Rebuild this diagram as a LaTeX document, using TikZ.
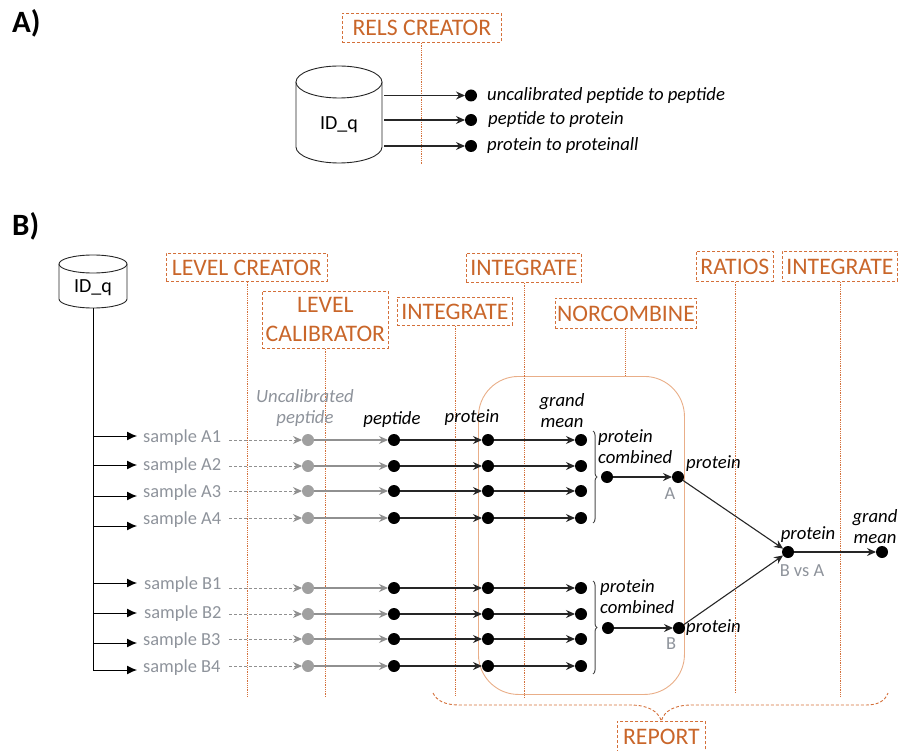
\documentclass[tikz,border=0pt]{standalone}
\usepackage{fontspec}
\setmainfont{Carlito}
\usetikzlibrary{arrows.meta,decorations.pathreplacing}
\definecolor{tool}{HTML}{C9662A}
\definecolor{toolline}{HTML}{D4703A}
\definecolor{soft}{HTML}{E9AE88}
\definecolor{muted}{HTML}{8E939B}
\definecolor{dotgray}{HTML}{A0A0A0}
\definecolor{linegray}{HTML}{909090}
\tikzset{
  x=1pt,y=-1pt,
  toolbox/.style={draw=toolline,densely dashed,line width=.8pt,text=tool,font=\fontsize{23.7}{29}\selectfont,inner sep=0pt,align=center,anchor=north west},
  toolrule/.style={draw=toolline,densely dotted,line width=.8pt},
  dot/.style={circle,fill=black,inner sep=0pt,minimum size=12pt,outer sep=0pt},
  graydot/.style={dot,fill=dotgray},
  lab/.style={font=\fontsize{18.7}{21}\selectfont\itshape,align=center,inner sep=0pt},
  samplelab/.style={font=\fontsize{18.4}{21}\selectfont,text=muted,inner sep=0pt,anchor=west},
  mutedlab/.style={font=\fontsize{18.4}{21}\selectfont,text=muted,inner sep=0pt},
  flow/.style={draw=black!85,line width=1.1pt,-{Stealth[length=9pt,width=8pt,inset=3pt]}},
  grayflow/.style={draw=linegray,line width=1.1pt,-{Stealth[length=9pt,width=8pt,inset=3pt]}},
  dashflow/.style={draw=linegray,densely dashed,line width=.9pt,-{Stealth[length=9pt,width=8pt,inset=3pt]}},
  branch/.style={draw=black,line width=1pt,-{Latex[length=10pt,width=9pt]}},
  db/.style={inner sep=0pt,outer sep=0pt,font=\fontsize{20}{23}\selectfont},
  dbline/.style={draw=black!85,line width=.9pt,fill=white},
  grp/.style={draw=black!70,line width=1pt,decorate,decoration={brace,amplitude=4pt}},
}
\begin{document}
\begin{tikzpicture}
\useasboundingbox (0,0) rectangle (901,751);
\node[font=\fontsize{31}{34}\selectfont\bfseries,anchor=west,inner sep=0pt] (pa) at (12,23) {A)};
\node[font=\fontsize{31}{34}\selectfont\bfseries,anchor=west,inner sep=0pt] (pb) at (12,226) {B)};

% --- tool boxes and their rules
\node[toolbox,minimum width=159pt,minimum height=29pt] (rels) at (342,13) {RELS CREATOR};
\coordinate (relsEnd) at (421,165);
\node[toolbox,minimum width=161pt,minimum height=28pt] (lc) at (166,253) {LEVEL CREATOR};
\node[toolbox,minimum width=126pt,minimum height=57pt] (cal) at (262,291) {LEVEL\\CALIBRATOR};
\node[toolbox,minimum width=115pt,minimum height=28pt] (int1) at (397,297) {INTEGRATE};
\node[toolbox,minimum width=115pt,minimum height=29pt] (int2) at (466,253) {INTEGRATE};
\node[toolbox,minimum width=141pt,minimum height=30pt] (nor) at (555,298) {NORCOMBINE};
\node[toolbox,minimum width=77pt,minimum height=30pt] (rat) at (696,251) {RATIOS};
\node[toolbox,minimum width=115pt,minimum height=30pt] (int3) at (782,251) {INTEGRATE};
\node[toolbox,minimum width=88pt,minimum height=30pt] (rep) at (617,721) {REPORT};

\node[draw=soft,line width=.9pt,rounded corners=40pt,minimum width=206pt,minimum height=318pt,anchor=north west,inner sep=0pt] (norbox) at (478,376) {};

\draw[toolrule] (rels.south -| relsEnd) -- (relsEnd);
\draw[toolrule] (lc.south) -- (lc.south |- 0,697);
\draw[toolrule] (cal.south) -- (cal.south |- 0,697);
\draw[toolrule] (int1.south) -- (int1.south |- 0,696);
\draw[toolrule] (int2.south) -- (int2.south |- 0,698);
\draw[toolrule] (rat.south) -- (rat.south |- 0,693);
\draw[toolrule] (int3.south) -- (int3.south |- 0,697);
\draw[toolrule,line width=1pt] (nor.south) -- (nor.south |- norbox.north);

% report brace
\coordinate (brL) at (433,693);
\coordinate (brR) at (888,693);
\draw[draw=toolline,densely dashed,line width=.9pt] (brL) .. controls (437,701) and (445,705) .. (460,705) -- (630,705) .. controls (648,705) and (658,711) .. (rep.north) .. controls (664,711) and (674,705) .. (692,705) -- (866,705) .. controls (878,705) and (885,701) .. (brR);

% --- panel A
\draw[dbline] (296,82) -- (296,147) arc[start angle=180,end angle=360,x radius=43pt,y radius=16pt] -- (382,82);
\draw[dbline] (339,82) ellipse[x radius=43pt,y radius=16pt];
\node[db] (dbalab) at (339,125) {ID\_q};
\foreach \n/\y/\t/\lx in {u/95.5/uncalibrated peptide to peptide/487,p/120/peptide to protein/488,r/146/protein to proteinall/487}{
  \coordinate (s\n) at (384,\y);
  \node[dot] (e\n) at (471,\y) {};
  \node[lab,anchor=west] (l\n) at (\lx,\y) {\t};
  \draw[flow] (s\n) -- (e\n);
}

% --- panel B database and trunk
\draw[dbline] (59,264) -- (59,299) arc[start angle=180,end angle=360,x radius=34pt,y radius=9pt] -- (127,264);
\draw[dbline] (93,264) ellipse[x radius=34pt,y radius=9pt];
\node[db] (dbblab) at (93,288) {ID\_q};
\coordinate (trunkTop) at (93,308);
\coordinate (trunkEnd) at (93,670);
\draw[draw=black,line width=1pt] (trunkTop) -- (trunkEnd);

% --- sample rows: name / branch y / label y / label x / row y
\foreach \n/\by/\ly/\lx/\y/\t in {
  a1/436/438/143/440/sample A1,
  a2/465/466/143/466/sample A2,
  a3/496/493/143/491/sample A3,
  a4/526/520/143/518/sample A4,
  b1/583/585/144/588/sample B1,
  b2/613/614/144/614/sample B2,
  b3/643/641/143/639/sample B3,
  b4/670/668/143/666/sample B4}{
  \coordinate (t\n) at (93,\by);
  \coordinate (h\n) at (137,\by);
  \draw[branch] (t\n) -- (h\n);
  \node[samplelab] (s\n) at (\lx,\ly) {\t};
  \coordinate (f\n) at (229,\y);
  \node[graydot] (u\n) at (308,\y) {};
  \node[dot] (v\n) at (394,\y) {};
  \node[dot] (w\n) at (488,\y) {};
  \node[dot] (x\n) at (581,\y) {};
  \draw[dashflow] (f\n) -- (u\n);
  \draw[grayflow] (u\n) -- (v\n);
  \draw[flow] (v\n) -- (w\n);
  \draw[flow] (w\n) -- (x\n);
}

% header labels
\node[lab,text=muted] (hu) at (305,408) {Uncalibrated\\peptide};
\node[lab] (hp) at (392,420) {peptide};
\node[lab] (hr) at (472,418) {protein};
\node[lab] (hg) at (562,411) {grand\\mean};

% combined A
\draw[grp] (593,431) -- (593,523);
\node[lab,anchor=west,align=left] (cal1) at (598,447) {protein\\combined};
\node[dot] (ca) at (607,477) {};
\node[dot] (pa1) at (678,477) {};
\draw[flow] (ca) -- (pa1);
\node[lab,anchor=west] (pal) at (686,464) {protein};
\node[mutedlab] (aa) at (670,494) {A};

% combined B
\draw[grp] (593,581) -- (593,674);
\node[lab,anchor=west,align=left] (cbl) at (600,597) {protein\\combined};
\node[dot] (cb) at (608,628) {};
\node[dot] (pb1) at (679,628) {};
\draw[flow] (cb) -- (pb1);
\node[lab,anchor=west] (pbl) at (686,628) {protein};
\node[mutedlab] (bb) at (671,644) {B};

% ratio
\node[dot] (ra) at (788,552) {};
\node[dot] (gm) at (882,552) {};
\draw[flow] (pa1) -- (ra);
\draw[flow] (pb1) -- (ra);
\draw[flow] (ra) -- (gm);
\node[lab] (rl) at (808,535) {protein};
\node[mutedlab] (rb) at (802,571) {B vs A};
\node[lab] (gl) at (875,527) {grand\\mean};
\end{tikzpicture}
\end{document}
